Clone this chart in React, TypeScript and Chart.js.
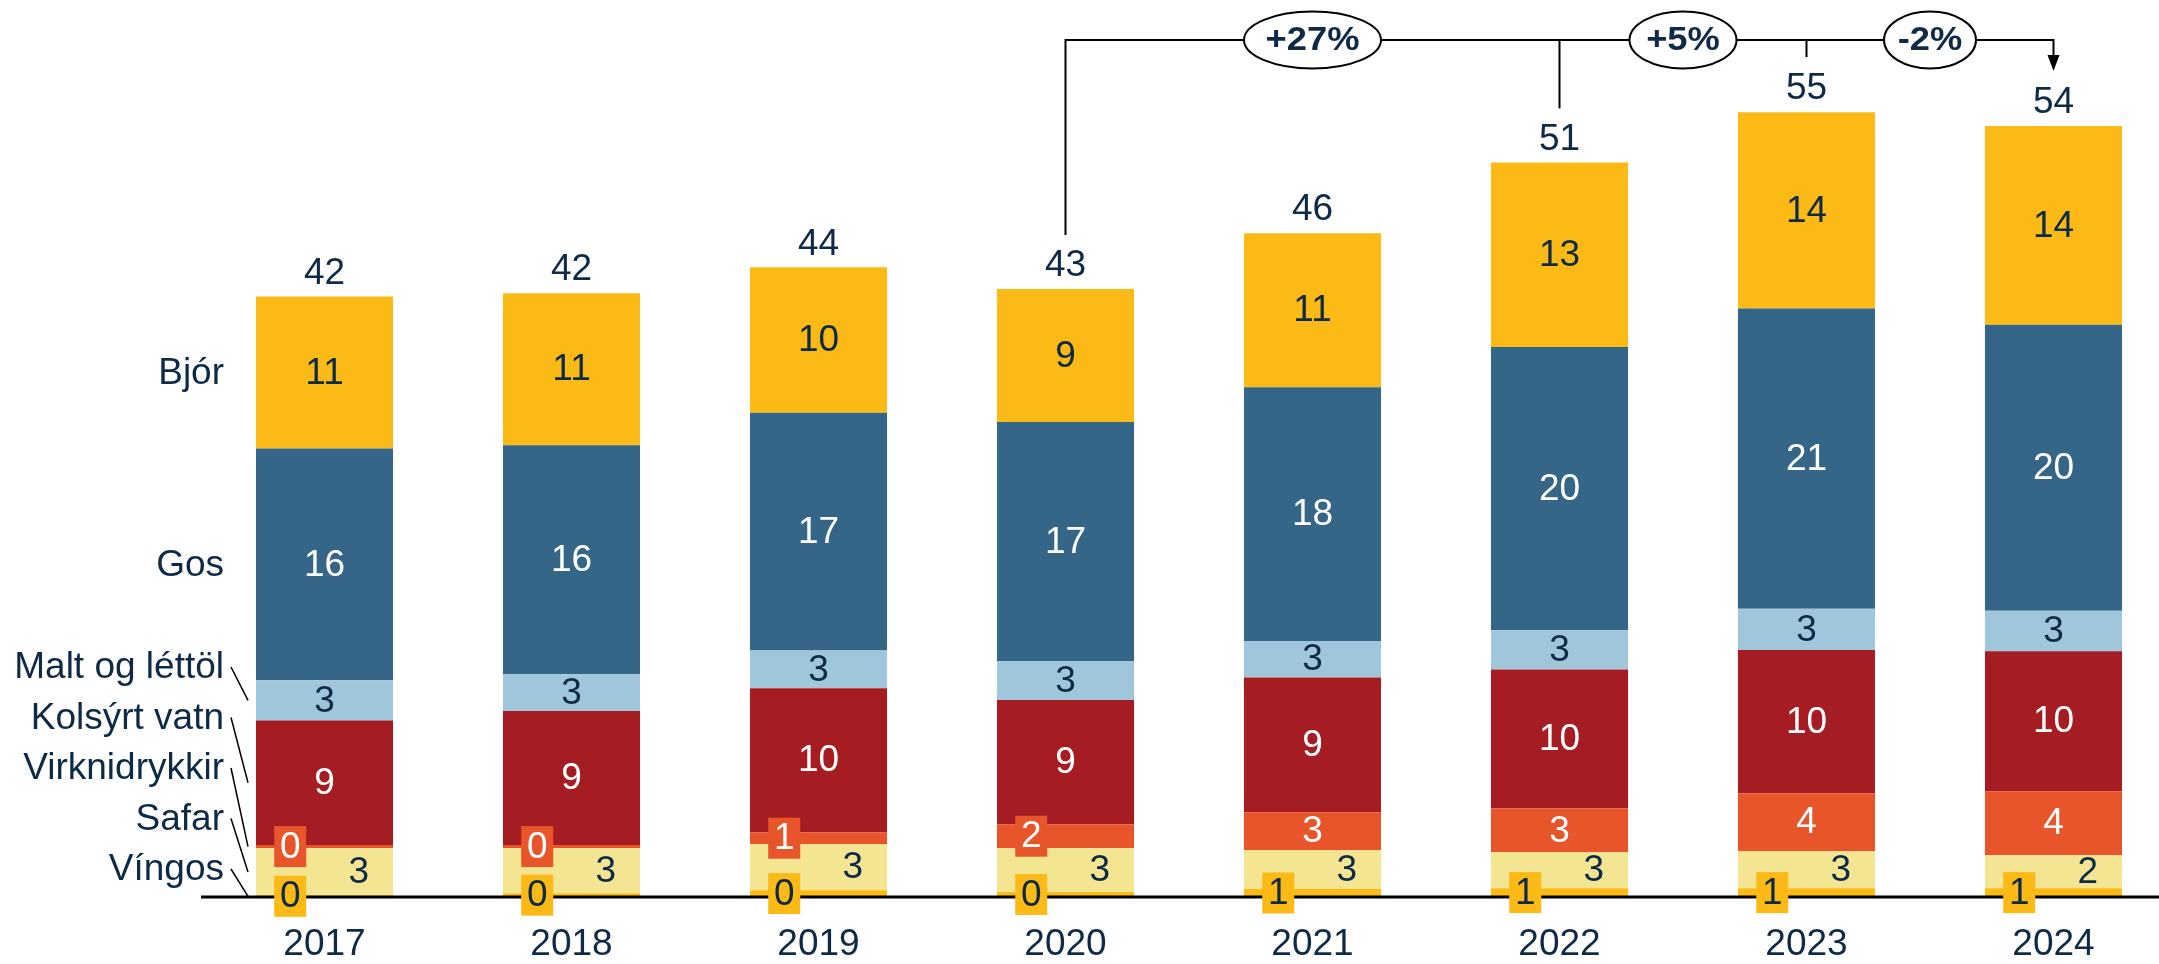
import React, { useEffect, useRef } from "react";
import { Chart, registerables } from "chart.js";

Chart.register(...registerables);

// ---- data ----
const years = ["2017", "2018", "2019", "2020", "2021", "2022", "2023", "2024"];
const seriesNames = ["Víngos", "Safar", "Virknidrykkir", "Kolsýrt vatn", "Malt og léttöl", "Gos", "Bjór"];
const vingos = [0.1, 0.26, 0.47, 0.35, 0.56, 0.61, 0.61, 0.61];
const safar = [3.31, 3.15, 3.22, 3.06, 2.71, 2.52, 2.59, 2.31];
const virknidrykkir = [0.23, 0.23, 0.84, 1.68, 2.66, 3.06, 4.06, 4.48];
const kolsyrtVatn = [8.7, 9.37, 10.07, 8.69, 9.42, 9.72, 10.02, 9.79];
const maltOgLettol = [2.82, 2.57, 2.64, 2.73, 2.56, 2.75, 2.87, 2.83];
const gos = [16.2, 16.01, 16.62, 16.71, 17.74, 19.81, 21.0, 19.99];
const bjor = [10.63, 10.63, 10.17, 9.3, 10.77, 12.9, 13.73, 13.9];
const changeLabels = ["+27%", "+5%", "-2%"];
const changeFrom = ["2020", "2022", "2023"];
const changeTo = ["2022", "2023", "2024"];

// ---- styles ----
const seriesData = [vingos, safar, virknidrykkir, kolsyrtVatn, maltOgLettol, gos, bjor];
const colors = ["#FBBA16", "#F3E592", "#E9552A", "#A51C22", "#9FC6DA", "#356587", "#FBBA16"];
const labelColors = ["#0E2A47", "#0E2A47", "#FFFFFF", "#FFFFFF", "#0E2A47", "#FFFFFF", "#0E2A47"];
const NAVY = "#0E2A47";
const FONT = "'Liberation Sans', Arial, sans-serif";
const FS = 37;
const bubbleWidths = [137, 107, 92];

const annotPlugin = {
  id: "annot",
  afterDatasetsDraw(chart: any) {
    const ctx = chart.ctx as CanvasRenderingContext2D;
    const xs = chart.scales.x;
    const ys = chart.scales.y;
    const base = ys.getPixelForValue(0);
    const n = years.length;

    // baseline
    ctx.save();
    ctx.strokeStyle = "#000";
    ctx.lineWidth = 3;
    ctx.beginPath();
    ctx.moveTo(201, base);
    ctx.lineTo(chart.width, base);
    ctx.stroke();

    ctx.textAlign = "center";
    ctx.textBaseline = "middle";
    ctx.font = `${FS}px ${FONT}`;

    // segment labels
    for (let d = 0; d < seriesData.length; d++) {
      const meta = chart.getDatasetMeta(d);
      for (let j = 0; j < n; j++) {
        const el: any = meta.data[j];
        const v = seriesData[d][j];
        const txt = String(Math.round(v));
        const cy = (el.y + el.base) / 2;
        const off = el.width * 0.25;
        let cx = el.x;
        let box = false;
        if (d === 0) {
          cx = el.x - off;
          box = true;
        } else if (d === 1) {
          cx = el.x + off;
        } else if (d === 2 && v < 2.5) {
          cx = el.x - off;
          box = true;
        }
        if (box) {
          ctx.fillStyle = colors[d];
          ctx.fillRect(cx - 16, cy - 20.5, 32, 41);
        }
        ctx.fillStyle = labelColors[d];
        ctx.fillText(txt, cx, cy + 1);
      }
    }

    // totals
    const tops: number[] = [];
    const xsPix: number[] = [];
    for (let j = 0; j < n; j++) {
      let t = 0;
      for (let d = 0; d < seriesData.length; d++) t += seriesData[d][j];
      const topY = ys.getPixelForValue(t);
      const x = xs.getPixelForValue(j);
      tops.push(topY);
      xsPix.push(x);
      ctx.fillStyle = NAVY;
      ctx.fillText(String(Math.round(t)), x, topY - 23);
    }

    // left legend
    ctx.textAlign = "right";
    const m0: any = chart.getDatasetMeta(6).data[0];
    const m1: any = chart.getDatasetMeta(5).data[0];
    ctx.fillStyle = NAVY;
    ctx.fillText(seriesNames[6], 224, (m0.y + m0.base) / 2 + 1);
    ctx.fillText(seriesNames[5], 224, (m1.y + m1.base) / 2 + 1);
    ctx.strokeStyle = "#000";
    ctx.lineWidth = 1.5;
    for (let d = 0; d <= 4; d++) {
      const ly = base - 28 - d * 50.5;
      ctx.fillText(seriesNames[d], 224, ly + 1);
      const el: any = chart.getDatasetMeta(d).data[0];
      const cy = (el.y + el.base) / 2;
      ctx.beginPath();
      ctx.moveTo(231, ly);
      ctx.lineTo(248, cy);
      ctx.stroke();
    }

    // change bracket
    const yB = 40;
    const idx = (lab: string) => years.indexOf(lab);
    const iStart = idx(changeFrom[0]);
    const iEnd = idx(changeTo[changeTo.length - 1]);
    ctx.strokeStyle = "#000";
    ctx.lineWidth = 2;
    ctx.beginPath();
    ctx.moveTo(xsPix[iStart], tops[iStart] - 54);
    ctx.lineTo(xsPix[iStart], yB);
    ctx.lineTo(xsPix[iEnd], yB);
    ctx.lineTo(xsPix[iEnd], yB + 16);
    ctx.stroke();
    ctx.fillStyle = "#000";
    ctx.beginPath();
    ctx.moveTo(xsPix[iEnd] - 6, yB + 15);
    ctx.lineTo(xsPix[iEnd] + 6, yB + 15);
    ctx.lineTo(xsPix[iEnd], yB + 31);
    ctx.closePath();
    ctx.fill();
    // intermediate ticks
    for (let k = 1; k < changeFrom.length; k++) {
      const i = idx(changeFrom[k]);
      const isFirstInner = k === 1;
      ctx.beginPath();
      ctx.moveTo(xsPix[i], yB);
      ctx.lineTo(xsPix[i], isFirstInner ? tops[i] - 54 : yB + 17);
      ctx.stroke();
    }
    // bubbles
    ctx.textAlign = "center";
    ctx.font = `bold 33px ${FONT}`;
    for (let k = 0; k < changeLabels.length; k++) {
      const a = xsPix[idx(changeFrom[k])];
      const b = xsPix[idx(changeTo[k])];
      const cx = (a + b) / 2;
      ctx.beginPath();
      ctx.ellipse(cx, yB, bubbleWidths[k] / 2, 28.5, 0, 0, Math.PI * 2);
      ctx.fillStyle = "#FFFFFF";
      ctx.fill();
      ctx.lineWidth = 2;
      ctx.strokeStyle = "#000";
      ctx.stroke();
      ctx.fillStyle = NAVY;
      ctx.save();
      ctx.translate(cx, yB + 1);
      ctx.scale(1.1, 1);
      ctx.fillText(changeLabels[k], 0, 0);
      ctx.restore();
    }
    ctx.restore();
  },
};

export default function App() {
  const ref = useRef<HTMLCanvasElement | null>(null);
  useEffect(() => {
    if (!ref.current) return;
    const chart = new Chart(ref.current, {
      type: "bar",
      data: {
        labels: years,
        datasets: seriesNames.map((name, i) => ({
          label: name,
          data: seriesData[i],
          backgroundColor: colors[i],
          borderWidth: 0,
          categoryPercentage: 1,
          barPercentage: 0.555,
          clip: false as any,
        })),
      },
      options: {
        animation: false,
        responsive: false,
        maintainAspectRatio: false,
        layout: { padding: { left: 324.5, right: 105.5, top: 39, bottom: 0 } },
        plugins: { legend: { display: false }, tooltip: { enabled: false } },
        scales: {
          x: {
            stacked: true,
            offset: false,
            grid: { display: false, drawTicks: false },
            border: { display: false },
            ticks: {
              color: NAVY,
              font: { family: FONT, size: FS },
              padding: 26,
              maxRotation: 0,
              autoSkip: false,
            },
            afterFit: (s: any) => {
              s.height = 67;
            },
          },
          y: { stacked: true, display: false, min: 0, max: 60 },
        },
      },
      plugins: [annotPlugin],
    });
    return () => chart.destroy();
  }, []);
  return (
    <div style={{ width: 2159, height: 964 }}>
      <canvas
        ref={ref}
        width={2159}
        height={964}
        style={{ position: "fixed", left: 0, top: 0, display: "block", width: 2159, height: 964 }}
      />
    </div>
  );
}
